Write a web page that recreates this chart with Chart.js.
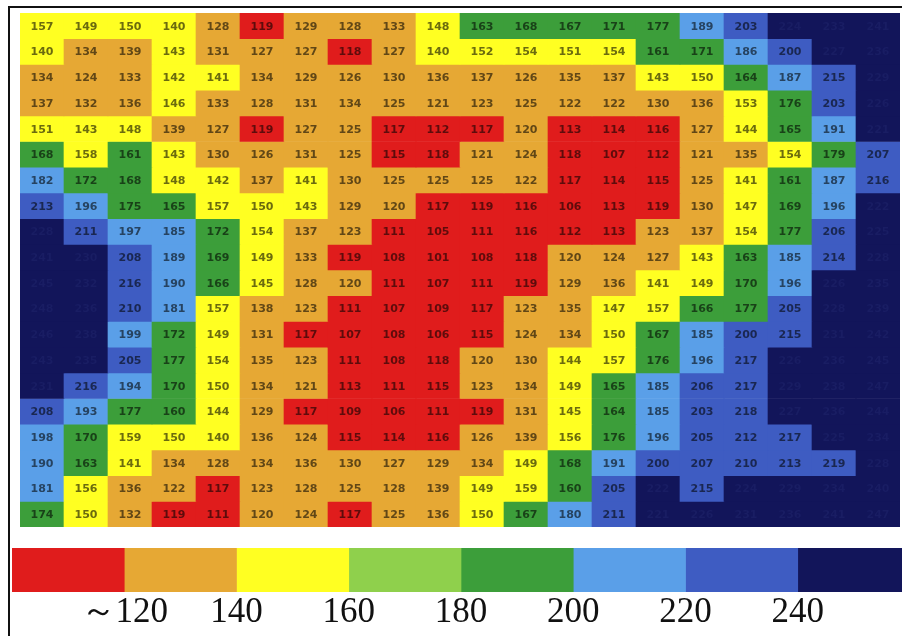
<!DOCTYPE html>
<html>
<head>
<meta charset="utf-8">
<script src="https://cdn.jsdelivr.net/npm/chart.js@4.4.1/dist/chart.umd.min.js"></script>
<style>
  html, body { margin: 0; padding: 0; background: #fff; overflow: hidden; }
  body { width: 902px; height: 636px; position: relative; }
  #frame { position: absolute; left: 8px; top: 6px; width: 900px; height: 640px;
           border-left: 2px solid #111; border-top: 2px solid #111; }
  #heatBox { position: absolute; left: 20px; top: 13px; width: 880px; height: 514px; }
  #barBox { position: absolute; left: 0px; top: 548px; width: 910px; height: 86px; }
</style>
</head>
<body>
<div id="frame"></div>
<div id="heatBox"><canvas id="heatChart"></canvas></div>
<div id="barBox"><canvas id="scaleChart"></canvas></div>
<script>
// grid values, one array per row (top to bottom), 20 columns each
const r1 = [157,149,150,140,128,119,129,128,133,148,163,168,167,171,177,189,203,224,233,241];
const r2 = [140,134,139,143,131,127,127,118,127,140,152,154,151,154,161,171,186,200,227,236];
const r3 = [134,124,133,142,141,134,129,126,130,136,137,126,135,137,143,150,164,187,215,229];
const r4 = [137,132,136,146,133,128,131,134,125,121,123,125,122,122,130,136,153,176,203,226];
const r5 = [151,143,148,139,127,119,127,125,117,112,117,120,113,114,116,127,144,165,191,221];
const r6 = [168,158,161,143,130,126,131,125,115,118,121,124,118,107,112,121,135,154,179,207];
const r7 = [182,172,168,148,142,137,141,130,125,125,125,122,117,114,115,125,141,161,187,216];
const r8 = [213,196,175,165,157,150,143,129,120,117,119,116,106,113,119,130,147,169,196,222];
const r9 = [228,211,197,185,172,154,137,123,111,105,111,116,112,113,123,137,154,177,206,225];
const r10 = [241,230,208,189,169,149,133,119,108,101,108,118,120,124,127,143,163,185,214,228];
const r11 = [245,232,216,190,166,145,128,120,111,107,111,119,129,136,141,149,170,196,226,235];
const r12 = [248,236,210,181,157,138,123,111,107,109,117,123,135,147,157,166,177,205,228,239];
const r13 = [246,238,199,172,149,131,117,107,108,106,115,124,134,150,167,185,200,215,231,242];
const r14 = [243,235,205,177,154,135,123,111,108,118,120,130,144,157,176,196,217,226,236,245];
const r15 = [231,216,194,170,150,134,121,113,111,115,123,134,149,165,185,206,217,229,238,247];
const r16 = [208,193,177,160,144,129,117,109,106,111,119,131,145,164,185,203,218,227,236,244];
const r17 = [198,170,159,150,140,136,124,115,114,116,126,139,156,176,196,205,212,217,225,234];
const r18 = [190,163,141,134,128,134,136,130,127,129,134,149,168,191,200,207,210,213,219,228];
const r19 = [181,156,136,122,117,123,128,125,128,139,149,159,160,205,222,215,224,229,234,240];
const r20 = [174,150,132,119,111,120,124,117,125,136,150,167,180,211,221,226,231,236,241,247];
const rows = [r1,r2,r3,r4,r5,r6,r7,r8,r9,r10,r11,r12,r13,r14,r15,r16,r17,r18,r19,r20];

const columns = ['1','2','3','4','5','6','7','8','9','10','11','12','13','14','15','16','17','18','19','20'];

// colour scale under the map
const scaleTicks = [120, 140, 160, 180, 200, 220, 240];
const scaleMin = 100;
const scaleMax = 260;

const RED = '#e01c1c', ORANGE = '#e6a834', YELLOW = '#ffff22', LIME = '#8fd04c',
      GREEN = '#3c9e3a', SKY = '#5a9fe8', BLUE = '#3e5cc2', NAVY = '#12155a';
const cellColors = [RED, ORANGE, YELLOW, GREEN, SKY, BLUE, NAVY];
const barColors = [RED, ORANGE, YELLOW, LIME, GREEN, SKY, BLUE, NAVY];

function cellColor(v) {
  let i = 0;
  while (i < 6 && v >= scaleTicks[i]) i++;
  return cellColors[i];
}

function darker(hex, k) {
  const n = parseInt(hex.slice(1), 16);
  const r = Math.round(((n >> 16) & 255) * k);
  const g = Math.round(((n >> 8) & 255) * k);
  const b = Math.round((n & 255) * k);
  return 'rgb(' + r + ',' + g + ',' + b + ')';
}

const cellText = {
  id: 'cellText',
  afterDatasetsDraw(chart) {
    const ctx = chart.ctx;
    ctx.save();
    ctx.font = 'bold 11px "DejaVu Sans"';
    ctx.textAlign = 'center';
    ctx.textBaseline = 'middle';
    chart.data.datasets.forEach((ds, di) => {
      chart.getDatasetMeta(di).data.forEach((bar, i) => {
        const v = ds.values[i];
        const c = cellColor(v);
        ctx.fillStyle = c === NAVY ? '#191d63' : darker(c, 0.42);
        const p = bar.getCenterPoint();
        ctx.fillText(String(v), p.x, p.y + 1);
      });
    });
    ctx.restore();
  }
};

new Chart(document.getElementById('heatChart'), {
  type: 'bar',
  data: {
    labels: columns,
    datasets: rows.map((r, i) => ({
      label: 'row ' + (i + 1),
      data: r.map(() => 1),
      values: r,
      backgroundColor: r.map(cellColor),
      borderWidth: 0,
      barPercentage: 1,
      categoryPercentage: 1
    }))
  },
  options: {
    responsive: true,
    maintainAspectRatio: false,
    animation: false,
    layout: { padding: 0 },
    scales: {
      x: { stacked: true, display: false },
      y: { stacked: true, display: false, reverse: true, min: 0, max: rows.length }
    },
    plugins: { legend: { display: false }, tooltip: { enabled: false } }
  },
  plugins: [cellText]
});

const bands = barColors.map((c, i) => ({
  label: 'band ' + i,
  data: [[scaleMin + i * 20, scaleMin + (i + 1) * 20]],
  backgroundColor: c,
  borderWidth: 0,
  grouped: false,
  barPercentage: 1,
  categoryPercentage: 1
}));

new Chart(document.getElementById('scaleChart'), {
  type: 'bar',
  data: { labels: ['scale'], datasets: bands },
  options: {
    indexAxis: 'y',
    responsive: true,
    maintainAspectRatio: false,
    animation: false,
    layout: { padding: { left: 12, right: 0, top: 0, bottom: 0 } },
    scales: {
      x: {
        type: 'linear',
        min: scaleMin,
        max: scaleMax,
        grid: { display: false, drawTicks: false },
        border: { display: false },
        ticks: {
          stepSize: 20,
          padding: 0,
          maxRotation: 0,
          autoSkip: false,
          color: '#111',
          font: { family: '"Liberation Serif"', size: 35 },
          callback: (v) => v === 120 ? '～120' : (scaleTicks.includes(v) ? String(v) : '')
        }
      },
      y: { display: false }
    },
    plugins: { legend: { display: false }, tooltip: { enabled: false } }
  }
});
</script>
</body>
</html>
